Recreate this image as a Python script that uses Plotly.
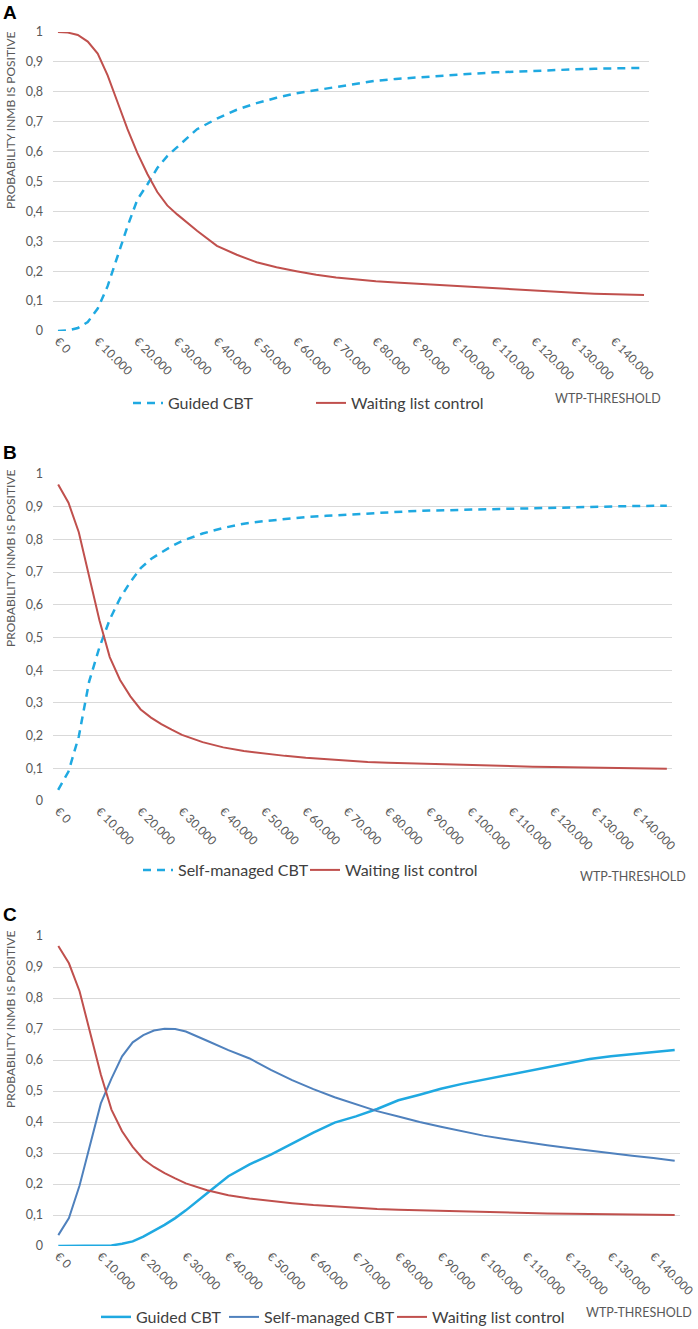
import plotly.graph_objects as go

W, H = 698, 1329

# ---------------- data ----------------
wtp_c = [0, 2500, 5000, 7500, 10000, 12500, 15000, 17500, 20000, 22500, 25000, 27500,
         30000, 35000, 40000, 45000, 50000, 55000, 60000, 65000, 70000, 75000, 80000,
         85000, 90000, 95000, 100000, 105000, 110000, 115000, 120000, 125000, 130000,
         135000, 140000, 145000]
wtp_ab = wtp_c + [147500]

tick_vals = [0, 10000, 20000, 30000, 40000, 50000, 60000, 70000, 80000, 90000,
             100000, 110000, 120000, 130000, 140000]
tick_text = ["€ 0", "€ 10.000", "€ 20.000", "€ 30.000", "€ 40.000", "€ 50.000",
             "€ 60.000", "€ 70.000", "€ 80.000", "€ 90.000", "€ 100.000",
             "€ 110.000", "€ 120.000", "€ 130.000", "€ 140.000"]
y_vals = [0, 0.1, 0.2, 0.3, 0.4, 0.5, 0.6, 0.7, 0.8, 0.9, 1.0]
y_text = ["0", "0,1", "0,2", "0,3", "0,4", "0,5", "0,6", "0,7", "0,8", "0,9", "1"]

# Panel A
guided_a = [0.0, 0.002, 0.01, 0.03, 0.075, 0.15, 0.25, 0.35, 0.44, 0.49, 0.545, 0.585,
            0.615, 0.675, 0.71, 0.74, 0.762, 0.78, 0.795, 0.806, 0.817, 0.828, 0.837,
            0.843, 0.848, 0.853, 0.857, 0.861, 0.865, 0.868, 0.87, 0.873, 0.875, 0.877,
            0.878, 0.879, 0.88]
wait_a = [1.0, 0.998, 0.99, 0.968, 0.928, 0.855, 0.765, 0.675, 0.595, 0.525, 0.465, 0.42,
          0.39, 0.335, 0.285, 0.255, 0.23, 0.213, 0.2, 0.188, 0.179, 0.172, 0.166, 0.162,
          0.158, 0.155, 0.152, 0.147, 0.143, 0.139, 0.136, 0.132, 0.128, 0.125, 0.123,
          0.121, 0.12]

# Panel B
self_b = [0.034, 0.09, 0.197, 0.365, 0.47, 0.555, 0.62, 0.67, 0.712, 0.74, 0.76, 0.779,
          0.795, 0.818, 0.835, 0.848, 0.856, 0.863, 0.868, 0.872, 0.876, 0.88, 0.884,
          0.886, 0.888, 0.89, 0.891, 0.892, 0.894, 0.895, 0.897, 0.898, 0.9, 0.901,
          0.902, 0.903, 0.903]
wait_b = [0.968, 0.912, 0.822, 0.69, 0.553, 0.44, 0.37, 0.32, 0.28, 0.255, 0.235, 0.218,
          0.202, 0.18, 0.164, 0.153, 0.145, 0.138, 0.132, 0.127, 0.123, 0.119, 0.117,
          0.115, 0.113, 0.111, 0.109, 0.107, 0.106, 0.105, 0.104, 0.103, 0.102, 0.101,
          0.1, 0.1, 0.099]

# Panel C
guided_c = [0.0, 0.0, 0.0, 0.0, 0.001, 0.002, 0.007, 0.015, 0.03, 0.048, 0.068, 0.09,
            0.115, 0.17, 0.225, 0.263, 0.295, 0.33, 0.366, 0.398, 0.418, 0.442, 0.47,
            0.488, 0.507, 0.523, 0.536, 0.549, 0.562, 0.576, 0.59, 0.603, 0.612, 0.619,
            0.627, 0.632]
self_c = [0.035, 0.09, 0.195, 0.325, 0.46, 0.54, 0.612, 0.657, 0.68, 0.695, 0.701, 0.7,
          0.692, 0.662, 0.632, 0.605, 0.568, 0.535, 0.506, 0.48, 0.457, 0.435, 0.418,
          0.4, 0.385, 0.37, 0.356, 0.345, 0.334, 0.325, 0.316, 0.307, 0.298, 0.291,
          0.284, 0.275]
wait_c = [0.968, 0.912, 0.822, 0.69, 0.553, 0.44, 0.37, 0.32, 0.28, 0.255, 0.235, 0.218,
          0.202, 0.18, 0.164, 0.153, 0.145, 0.138, 0.132, 0.127, 0.123, 0.119, 0.117,
          0.115, 0.113, 0.111, 0.109, 0.107, 0.106, 0.105, 0.104, 0.103, 0.102, 0.101,
          0.1, 0.1]

# ---------------- styling ----------------
FONT = "Lato"
RED = "#C0504D"
CYAN = "#1FA9E1"
STEEL = "#4F81BD"
GRID = "#D9D9D9"
TICKC = "#595959"
LEGC = "#404040"


def px_x(p):
    return p / W


def px_y(p):
    return 1 - p / H


panels = [
    dict(sfx="", xd=(53, 649), yd=(32, 331), xr=[-1250, 148750]),
    dict(sfx="2", xd=(53, 672), yd=(474, 801), xr=[-1250, 148750]),
    dict(sfx="3", xd=(53, 680), yd=(936, 1246), xr=[-1250, 146250]),
]

fig = go.Figure()

dashed = dict(width=2.5, dash="8px,6px")

# (x, y, name, color, line-extra, axis suffix, legend id, legend left px, legend centre y px)
series = [
    (wtp_ab, guided_a, "Guided CBT", CYAN, dashed, "", "legend", 128, 403),
    (wtp_ab, wait_a, "Waiting list control", RED, dict(width=2), "", "legend2", 311, 403),
    (wtp_ab, self_b, "Self-managed CBT", CYAN, dashed, "2", "legend3", 138, 870),
    (wtp_ab, wait_b, "Waiting list control", RED, dict(width=2), "2", "legend4", 305, 870),
    (wtp_c, guided_c, "Guided CBT", CYAN, dict(width=2.5), "3", "legend5", 96, 1317),
    (wtp_c, self_c, "Self-managed CBT", STEEL, dict(width=2), "3", "legend6", 224, 1317),
    (wtp_c, wait_c, "Waiting list control", RED, dict(width=2), "3", "legend7", 392, 1317),
]

layout = dict(
    width=W, height=H,
    margin=dict(l=0, r=0, t=0, b=0, autoexpand=False),
    paper_bgcolor="white", plot_bgcolor="white",
    font=dict(family=FONT, color=TICKC),
    showlegend=True,
)

for xs, ys, name, color, lx, sfx, leg, lx_px, ly_px in series:
    fig.add_trace(go.Scatter(x=xs, y=ys, name=name, mode="lines",
                             line=dict(color=color, **lx),
                             xaxis="x" + sfx, yaxis="y" + sfx, legend=leg,
                             cliponaxis=False))
    layout[leg] = dict(orientation="h", font=dict(size=16, color=LEGC, family=FONT),
                       bgcolor="rgba(0,0,0,0)", itemwidth=30, xanchor="left",
                       yanchor="middle", itemclick=False, itemdoubleclick=False,
                       x=px_x(lx_px), y=px_y(ly_px))

for p in panels:
    s = p["sfx"]
    layout["xaxis" + s] = dict(
        domain=[px_x(p["xd"][0]), px_x(p["xd"][1])],
        range=p["xr"], anchor="y" + s, automargin=False,
        tickmode="array", tickvals=tick_vals, ticktext=tick_text,
        tickangle=45, tickfont=dict(size=12, color=TICKC, family=FONT),
        showgrid=False, zeroline=False, showline=False, ticks="",
    )
    layout["yaxis" + s] = dict(
        domain=[px_y(p["yd"][1]), px_y(p["yd"][0])],
        range=[0, 1], anchor="x" + s, automargin=False,
        tickmode="array", tickvals=y_vals, ticktext=y_text,
        tickfont=dict(size=12.5, color=TICKC, family=FONT),
        showgrid=True, gridcolor=GRID, gridwidth=1,
        zeroline=False, showline=False, ticks="", ticklabelstandoff=9,
    )

annotations = []
# panel letters
for letter, top in [("A", 0), ("B", 440), ("C", 902)]:
    annotations.append(dict(text="<b>%s</b>" % letter, x=px_x(1), y=px_y(top),
                            xref="paper", yref="paper", xanchor="left", yanchor="top",
                            showarrow=False,
                            font=dict(family="Liberation Sans", size=19, color="black")))
# y-axis titles
for top in [29, 467, 928]:
    annotations.append(dict(text="PROBABILITY INMB IS POSITIVE", textangle=-90,
                            x=px_x(10), y=px_y(top), xref="paper", yref="paper",
                            xanchor="center", yanchor="top", showarrow=False,
                            font=dict(family=FONT, size=12, color=TICKC)))
# WTP-THRESHOLD labels
for right, cy in [(663, 398), (688, 876), (694, 1312)]:
    annotations.append(dict(text="WTP-THRESHOLD", x=px_x(right), y=px_y(cy),
                            xref="paper", yref="paper", xanchor="right",
                            yanchor="middle", showarrow=False,
                            font=dict(family=FONT, size=12.5, color=TICKC)))
layout["annotations"] = annotations

fig.update_layout(**layout)
fig.write_html(
    "out.html",
    config={"displayModeBar": False, "staticPlot": True},
    post_script="document.body.style.margin='0';document.body.style.overflow='hidden';",
)
